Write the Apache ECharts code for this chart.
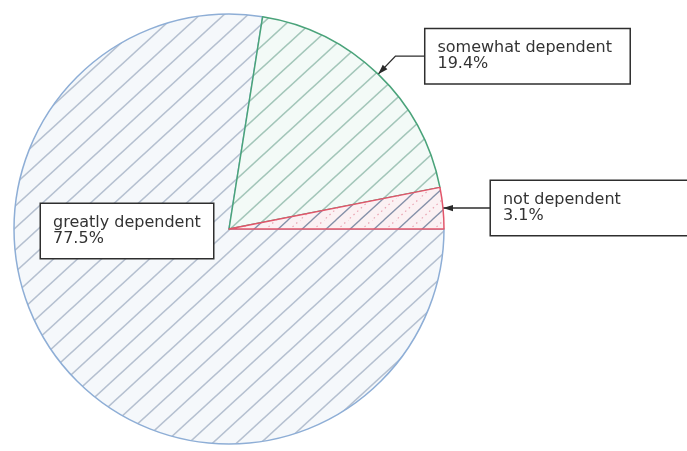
<!DOCTYPE html>
<html>
<head>
<meta charset="utf-8">
<script src="https://cdn.jsdelivr.net/npm/echarts@6/dist/echarts.min.js"></script>
<style>
  html, body { margin: 0; padding: 0; background: #ffffff; }
  #chart { width: 687px; height: 451px; }
</style>
</head>
<body>
<div id="chart"></div>
<script>
// Shares of respondents by level of dependence (percent)
const categories = ['greatly dependent', 'somewhat dependent', 'not dependent'];
const shares = [77.5, 19.4, 3.1];

// Pie geometry
const CX = 229, CY = 229, R = 215;

// Diagonal hatch tile used as a slice fill
function hatch(bg, line, lineWidth, dotColor) {
  const w = 24, h = 22;
  const c = document.createElement('canvas');
  c.width = w; c.height = h;
  const g = c.getContext('2d');
  g.fillStyle = bg;
  g.fillRect(0, 0, w, h);
  const drawSet = (offset) => {
    for (let k = -1; k <= 1; k++) {
      g.beginPath();
      g.moveTo(k * w - w + offset, 2 * h);
      g.lineTo(k * w + 2 * w + offset, -h);
      g.stroke();
    }
  };
  g.strokeStyle = line;
  g.lineWidth = lineWidth;
  drawSet(0);
  if (dotColor) {
    g.strokeStyle = dotColor;
    g.lineWidth = 1.2;
    g.setLineDash([1.5, 3.5]);
    drawSet(w / 2);
  }
  return { image: c, repeat: 'repeat' };
}

const fills = [
  hatch('#f5f8fb', '#b5c0d0', 1.6),
  hatch('#f3faf7', '#a3c6b9', 1.6),
  hatch('#fbf1f3', '#8490a8', 1.3, '#eaa2b0')
];
const borders = ['#8eaed6', '#4aa37a', '#e2556a'];

// Callout leader settings per slice
const lineLen = [0, 25, 1];
const lineLen2 = [0, 30, 47];
const boxWidth = [149, 181, 230];

const data = categories.map((name, i) => ({
  name: name,
  value: shares[i],
  itemStyle: { color: fills[i], borderColor: borders[i], borderWidth: 1.5 },
  label: i === 0
    ? { position: 'inside', width: boxWidth[i] }
    : { position: 'outside', width: boxWidth[i] },
  labelLine: i === 0
    ? { show: false }
    : { show: true, length: lineLen[i], length2: lineLen2[i] }
}));

// Arrowheads at the slice edge where each leader line starts
function arrowHeads() {
  const out = [];
  const total = shares.reduce((a, b) => a + b, 0);
  let cum = 0;
  shares.forEach((v, i) => {
    const start = -cum / total * 360;
    const mid = (start - v / total * 180) * Math.PI / 180;
    cum += v;
    if (i === 0) return;
    const tx = CX + R * Math.cos(mid);
    const ty = CY - R * Math.sin(mid);
    let bx, by;
    if (lineLen[i] > 3) { bx = Math.cos(mid); by = -Math.sin(mid); }
    else { bx = 1; by = 0; }
    const px = -by, py = bx;
    const L = 10, W = 3.2;
    out.push({
      type: 'polygon',
      silent: true,
      z: 100,
      shape: { points: [
        [tx, ty],
        [tx + bx * L + px * W, ty + by * L + py * W],
        [tx + bx * L - px * W, ty + by * L - py * W]
      ] },
      style: { fill: '#2a2a2a' }
    });
  });
  return out;
}

const chart = echarts.init(document.getElementById('chart'), null, { renderer: 'canvas' });
chart.setOption({
  animation: false,
  backgroundColor: '#ffffff',
  series: [{
    type: 'pie',
    center: [CX, CY],
    radius: R,
    startAngle: 0,
    clockwise: true,
    avoidLabelOverlap: false,
    silent: true,
    emphasis: { disabled: true },
    label: {
      show: true,
      formatter: p => p.name + '\n' + shares[p.dataIndex].toFixed(1) + '%',
      fontFamily: 'DejaVu Sans',
      fontSize: 16,
      lineHeight: 16,
      color: '#333333',
      backgroundColor: '#ffffff',
      borderColor: '#2e2e2e',
      borderWidth: 1.5,
      padding: [11, 11, 11, 12],
      distanceToLabelLine: 0
    },
    labelLine: {
      smooth: false,
      lineStyle: { color: '#2e2e2e', width: 1.4 }
    },
    labelLayout: p => p.dataIndex === 0
      ? { x: 41, y: 231, align: 'left', verticalAlign: 'middle' }
      : {},
    data: data
  }],
  graphic: arrowHeads()
});
</script>
</body>
</html>
